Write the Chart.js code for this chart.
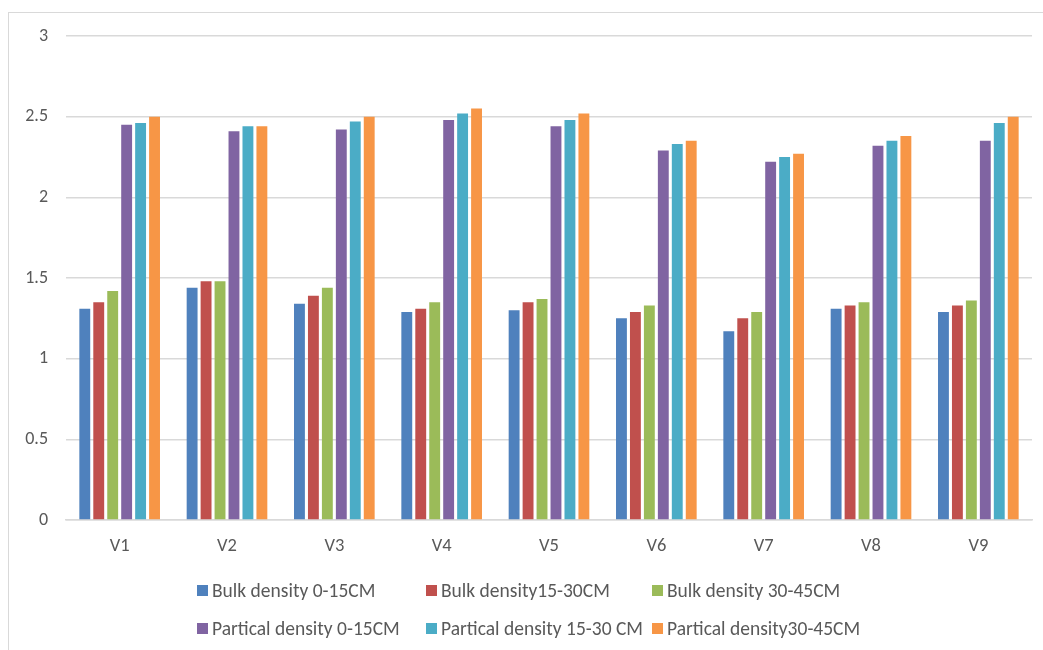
<!DOCTYPE html>
<html>
<head>
<meta charset="utf-8">
<script src="https://cdn.jsdelivr.net/npm/chart.js@4.4.1/dist/chart.umd.min.js"></script>
<style>
  html, body { margin: 0; padding: 0; background: #fff; }
  #wrap { position: relative; width: 1043px; height: 650px; overflow: hidden; }
  #frame { position: absolute; left: 8px; top: 12px; width: 1100px; height: 700px;
           border-left: 1.5px solid #d9d9d9; border-top: 1.5px solid #d9d9d9; box-sizing: border-box; }
  canvas { position: absolute; left: 0; top: 0; }
  #legend { position: absolute; left: 197px; top: 578px; font-family: Carlito, Calibri, Lato, sans-serif;
            font-size: 19.5px; color: #595959; display: grid; grid-template-columns: 229px 226px auto;
            row-gap: 14px; }
  .item { display: flex; align-items: center; white-space: nowrap; height: 24px; }
  .box { width: 11px; height: 11px; margin-right: 4px; flex: none; }
</style>
</head>
<body>
<div id="wrap">
  <div id="frame"></div>
  <canvas id="c" width="1043" height="650"></canvas>
  <div id="legend"></div>
</div>
<script>
const categories = ['V1', 'V2', 'V3', 'V4', 'V5', 'V6', 'V7', 'V8', 'V9'];

const bulk0_15   = [1.31, 1.44, 1.34, 1.29, 1.30, 1.25, 1.17, 1.31, 1.29];
const bulk15_30  = [1.35, 1.48, 1.39, 1.31, 1.35, 1.29, 1.25, 1.33, 1.33];
const bulk30_45  = [1.42, 1.48, 1.44, 1.35, 1.37, 1.33, 1.29, 1.35, 1.36];
const part0_15   = [2.45, 2.41, 2.42, 2.48, 2.44, 2.29, 2.22, 2.32, 2.35];
const part15_30  = [2.46, 2.44, 2.47, 2.52, 2.48, 2.33, 2.25, 2.35, 2.46];
const part30_45  = [2.50, 2.44, 2.50, 2.55, 2.52, 2.35, 2.27, 2.38, 2.50];

const seriesLabels = [
  'Bulk density 0-15CM', 'Bulk density15-30CM', 'Bulk density 30-45CM',
  'Partical density 0-15CM', 'Partical density 15-30 CM', 'Partical density30-45CM'
];
const seriesColors = ['#4F81BD', '#C0504D', '#9BBB59', '#8064A2', '#4BACC6', '#F79646'];
const seriesValues = [bulk0_15, bulk15_30, bulk30_45, part0_15, part15_30, part30_45];

const yTicks = [0, 0.5, 1, 1.5, 2, 2.5, 3];

const FONT = 'Carlito, Calibri, Lato, sans-serif';
const TEXT = '#595959';
const GRID = '#d9d9d9';

const chart = new Chart(document.getElementById('c'), {
  type: 'bar',
  data: {
    labels: categories,
    datasets: seriesValues.map((vals, i) => ({
      label: seriesLabels[i],
      data: vals,
      backgroundColor: seriesColors[i],
      borderWidth: 0,
      categoryPercentage: 0.78,
      barPercentage: 0.78
    }))
  },
  options: {
    responsive: false,
    animation: false,
    layout: { padding: { left: 0, right: 11, top: 36, bottom: 89 } },
    plugins: { legend: { display: false }, tooltip: { enabled: false } },
    scales: {
      x: {
        grid: { display: false, drawTicks: false },
        border: { display: true, color: GRID, width: 1.5 },
        ticks: { color: TEXT, font: { family: FONT, size: 18.5 }, padding: 15 },
        afterFit: (s) => { s.height = 41; }
      },
      y: {
        min: 0, max: 3,
        afterBuildTicks: (s) => { s.ticks = yTicks.map(v => ({ value: v })); },
        grid: { color: GRID, lineWidth: 1.5, drawTicks: false },
        border: { display: false },
        ticks: {
          color: TEXT, font: { family: FONT, size: 18 }, padding: 18,
          callback: (v) => String(v)
        },
        afterFit: (s) => { s.width = 66; }
      }
    }
  }
});

// Legend laid out in three columns below the plot
const legend = document.getElementById('legend');
chart.data.datasets.forEach(ds => {
  const item = document.createElement('div');
  item.className = 'item';
  const box = document.createElement('span');
  box.className = 'box';
  box.style.background = ds.backgroundColor;
  const txt = document.createElement('span');
  txt.textContent = ds.label;
  item.appendChild(box);
  item.appendChild(txt);
  legend.appendChild(item);
});
</script>
</body>
</html>
